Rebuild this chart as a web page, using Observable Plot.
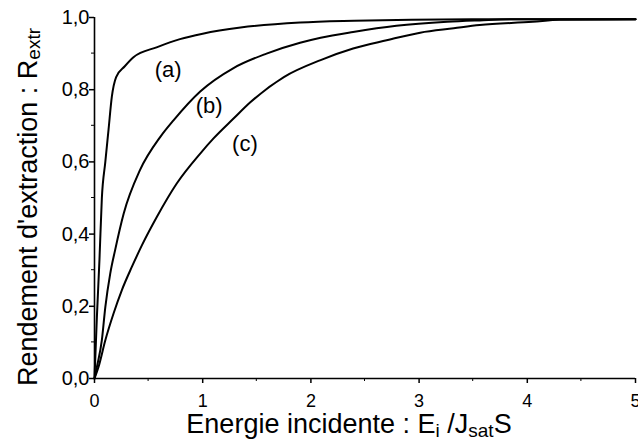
<!DOCTYPE html>
<html>
<head>
<meta charset="utf-8">
<script src="https://cdn.jsdelivr.net/npm/d3@7"></script>
<script src="https://cdn.jsdelivr.net/npm/@observablehq/plot@0.6"></script>
<style>
html,body{margin:0;padding:0;background:#fff;}
svg{font-family:"Liberation Sans",Arial,Helvetica,sans-serif;}
</style>
</head>
<body>
<div id="chart"></div>
<script>
// Curve (a)
const aX = [0, 0.022, 0.046, 0.068, 0.1, 0.13, 0.16, 0.2, 0.28, 0.36, 0.58, 0.79, 1.0, 1.35, 1.9, 2.4, 2.93, 3.5, 5];
const aY = [0, 0.17, 0.33, 0.5, 0.6, 0.69, 0.78, 0.835, 0.865, 0.89, 0.918, 0.94, 0.955, 0.972, 0.986, 0.991, 0.994, 0.995, 0.995];
// Curve (b)
const bX = [0, 0.022, 0.068, 0.1, 0.145, 0.19, 0.27, 0.42, 0.61, 0.73, 0.977, 1.285, 1.59, 1.9, 2.09, 2.39, 2.79, 3.26, 3.56, 3.84, 5];
const bY = [0, 0.032, 0.106, 0.198, 0.29, 0.355, 0.457, 0.577, 0.67, 0.715, 0.795, 0.86, 0.9, 0.93, 0.944, 0.96, 0.977, 0.988, 0.992, 0.995, 0.995];
// Curve (c)
const cX = [0, 0.037, 0.1, 0.176, 0.253, 0.345, 0.44, 0.577, 0.76, 0.977, 1.1, 1.285, 1.44, 1.75, 2.09, 2.39, 2.7, 3.01, 3.32, 3.56, 4.05, 4.3, 5];
const cY = [0, 0.032, 0.106, 0.18, 0.245, 0.309, 0.37, 0.448, 0.54, 0.623, 0.665, 0.72, 0.765, 0.835, 0.882, 0.914, 0.937, 0.958, 0.97, 0.979, 0.988, 0.994, 0.995];
const curveNames = ["(a)", "(b)", "(c)"];
// label anchor positions (data units)
const labelX = [0.68, 1.06, 1.39];
const labelY = [0.855, 0.755, 0.65];
const xTicks = [0, 1, 2, 3, 4, 5];
const yTicks = [0, 0.2, 0.4, 0.6, 0.8, 1.0];
const xMinor = [0.5, 1.5, 2.5, 3.5, 4.5];
const yMinor = [0.1, 0.3, 0.5, 0.7, 0.9];

const rows = [];
[[aX, aY], [bX, bY], [cX, cY]].forEach(([xs, ys], i) => {
  xs.forEach((x, j) => rows.push({x, y: ys[j], s: curveNames[i]}));
});
const labels = curveNames.map((n, i) => ({n, x: labelX[i], y: labelY[i]}));
const fmt = d => d.toFixed(1).replace(".", ",");

const plot = Plot.plot({
  width: 638,
  height: 444,
  marginLeft: 94,
  marginRight: 3,
  marginTop: 17,
  marginBottom: 66,
  style: {background: "#fff", color: "#000", fontFamily: "Liberation Sans, Arial, sans-serif"},
  x: {type: "linear", domain: [0, 5]},
  y: {type: "linear", domain: [0, 1]},
  marks: [
    Plot.axisX({ticks: xTicks, tickFormat: () => "", tickSize: 5, label: null, strokeWidth: 1.5}),
    Plot.axisY({ticks: yTicks, tickFormat: () => "", tickSize: 5, label: null, strokeWidth: 1.5}),
    Plot.text(xTicks, {x: d => d, y: 0, dy: 23, text: d => String(d), fontSize: 18, fill: "#000"}),
    Plot.text(yTicks, {x: 0, y: d => d, dx: -5, textAnchor: "end", text: fmt, fontSize: 20, fill: "#000"}),
    Plot.ruleY([0], {strokeWidth: 1.6}),
    Plot.ruleX([0], {strokeWidth: 1.6}),
    Plot.line(rows, {x: "x", y: "y", z: "s", stroke: "#000", strokeWidth: 2, curve: "monotone-x"}),
    Plot.text(labels, {x: "x", y: "y", text: "n", fontSize: 22, fill: "#000"})
  ]
});
document.getElementById("chart").appendChild(plot);

const svg = d3.select(plot);
// minor ticks (outward) + axis titles with sub-scripts
const W = 638, H = 444, mL = 94, mR = 3, mT = 17, mB = 66;
const xs = d3.scaleLinear([0, 5], [mL, W - mR]);
const ys = d3.scaleLinear([0, 1], [H - mB, mT]);
const g = svg.append("g").attr("stroke", "#000").attr("stroke-width", 1);
xMinor.forEach(v => g.append("line").attr("x1", xs(v)).attr("x2", xs(v)).attr("y1", ys(0)).attr("y2", ys(0) + 3));
yMinor.forEach(v => g.append("line").attr("y1", ys(v)).attr("y2", ys(v)).attr("x1", xs(0)).attr("x2", xs(0) - 3));

const xt = svg.append("text").attr("x", 349).attr("y", 433).attr("text-anchor", "middle")
  .style("font-size", "27px").attr("fill", "#000");
xt.append("tspan").text("Energie incidente : E");
xt.append("tspan").style("font-size", "19px").attr("dy", 4).text("i");
xt.append("tspan").attr("dy", -4).text(" /J");
xt.append("tspan").style("font-size", "19px").attr("dy", 4).text("sat");
xt.append("tspan").attr("dy", -4).text("S");

const yt = svg.append("text").attr("transform", "translate(37,207) rotate(-90)").attr("text-anchor", "middle")
  .style("font-size", "27px").attr("fill", "#000");
yt.append("tspan").text("Rendement d'extraction : R");
yt.append("tspan").style("font-size", "19px").attr("dy", 3).text("extr");
</script>
</body>
</html>
